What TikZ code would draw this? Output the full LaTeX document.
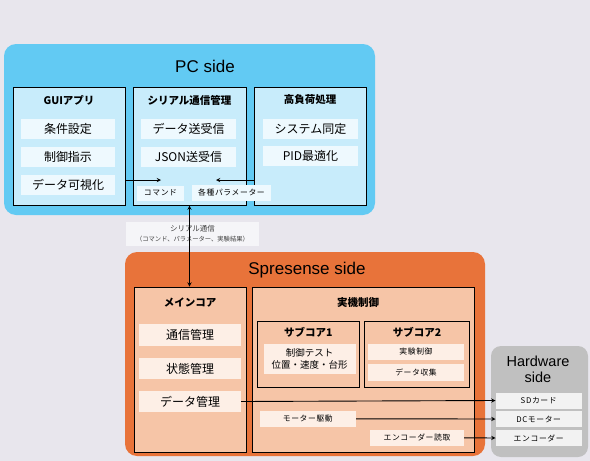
\documentclass[tikz,border=0pt]{standalone}
\usepackage{fontspec}
\setmainfont{Noto Sans CJK JP}
\newfontfamily\latin{Liberation Sans}
\usetikzlibrary{arrows,positioning,shapes,calc,backgrounds}
\usepackage{xcolor}
\definecolor{bgc}{HTML}{E8E6ED}
\definecolor{pcblue}{HTML}{62CAF3}
\definecolor{pcbox}{HTML}{C8ECFB}
\definecolor{pcitem}{HTML}{EEF9FE}
\definecolor{sporange}{HTML}{E8733A}
\definecolor{spbox}{HTML}{F6C5A7}
\definecolor{spitem}{HTML}{FDEFE6}
\definecolor{hwgray}{HTML}{C0C0C0}
\definecolor{hwitem}{HTML}{F2F2F2}
\definecolor{tagc}{HTML}{F5F5F8}

\begin{document}
\begin{tikzpicture}[x=1pt,y=-1pt,
    panel/.style={rounded corners=12pt,inner sep=0pt},
    grp/.style={draw,line width=1pt,inner sep=0pt},
    item/.style={inner sep=0pt,font=\fontsize{12}{14}\selectfont},
    tag/.style={inner sep=0pt,font=\fontsize{7.8}{9}\selectfont\addfontfeature{LetterSpace=8}},
    ttl/.style={font=\fontsize{10.5}{12}\selectfont\bfseries},
    big/.style={font=\latin\fontsize{17}{20}\selectfont},
    conn/.style={line width=0.9pt,-stealth}]
    \fill[bgc] (0,0) rectangle (590,461);
    \useasboundingbox (0,0) rectangle (590,461);

    \node[panel,fill=pcblue,minimum width=371pt,minimum height=171pt] (pc) at (189.5,129.5) {};
    \node[big] (pct) at (205,66) {PC side};
    \node[grp,fill=pcbox,minimum width=112pt,minimum height=118pt] (gui) at (69,146) {};
    \node[grp,fill=pcbox,minimum width=113pt,minimum height=118pt] (ser) at (189.5,146) {};
    \node[grp,fill=pcbox,minimum width=112pt,minimum height=118pt] (hi) at (310,146) {};
    \node[ttl] (guit) at (69,100) {GUIアプリ};
    \node[ttl] (sert) at (189.5,100) {シリアル通信管理};
    \node[ttl] (hit) at (310,100) {高負荷処理};
    \node[item,fill=pcitem,minimum width=94pt,minimum height=20pt] (cond) at (68,129) {条件設定};
    \node[item,fill=pcitem,minimum width=94pt,minimum height=20pt] (ctrl) at (68,157) {制御指示};
    \node[item,fill=pcitem,minimum width=94pt,minimum height=20pt] (vis) at (68,184.5) {データ可視化};
    \node[item,fill=pcitem,minimum width=95pt,minimum height=20pt] (dtx) at (188.5,129) {データ送受信};
    \node[item,fill=pcitem,minimum width=95pt,minimum height=20pt] (json) at (188.5,157) {JSON送受信};
    \node[item,fill=pcitem,minimum width=95pt,minimum height=20pt] (sysid) at (310.5,129) {システム同定};
    \node[item,fill=pcitem,minimum width=95pt,minimum height=20pt] (pid) at (310.5,156) {PID最適化};
    \coordinate (cmdin) at (161,180);
    \coordinate (parin) at (216,180);
    \draw[conn] (gui.east |- cmdin) -- (cmdin);
    \draw[conn] (hi.west |- parin) -- (parin);
    \node[tag,fill=pcitem,minimum width=47pt,minimum height=15pt] (cmd) at (160.5,193) {コマンド};
    \node[tag,fill=pcitem,minimum width=79pt,minimum height=16pt] (par) at (231.5,193) {各種パラメーター};

    \node[panel,fill=sporange,minimum width=360pt,minimum height=204pt] (sp) at (305,354) {};
    \node[big] (spt) at (307,270) {Spresense side};
    \node[grp,fill=spbox,minimum width=112pt,minimum height=165pt] (main) at (190,369.5) {};
    \node[ttl] (maint) at (190,303) {メインコア};
    \node[item,fill=spitem,minimum width=102pt,minimum height=22pt] (comm) at (190,335) {通信管理};
    \node[item,fill=spitem,minimum width=102pt,minimum height=21pt] (state) at (190,368.5) {状態管理};
    \node[item,fill=spitem,minimum width=102pt,minimum height=21pt] (dm) at (190,401.5) {データ管理};
    \node[grp,fill=spbox,minimum width=222pt,minimum height=165pt] (jk) at (363.5,369.5) {};
    \node[ttl] (jkt) at (358,303) {実機制御};
    \node[grp,fill=spbox,minimum width=102pt,minimum height=66pt] (s1) at (308.3,354) {};
    \node[ttl] (s1t) at (308.3,332.3) {サブコア1};
    \node[item,fill=spitem,minimum width=92pt,minimum height=30pt,align=center,font=\fontsize{9.5}{12.5}\selectfont] (s1a) at (309.5,359) {制御テスト\\位置・速度・台形};
    \node[grp,fill=spbox,minimum width=105pt,minimum height=66pt] (s2) at (417,354) {};
    \node[ttl] (s2t) at (417,332.3) {サブコア2};
    \node[tag,fill=spitem,minimum width=96pt,minimum height=16pt] (exp) at (416,352) {実験制御};
    \node[tag,fill=spitem,minimum width=96pt,minimum height=17pt] (coll) at (416,372.3) {データ収集};
    \node[tag,fill=spitem,minimum width=96pt,minimum height=16pt] (motor) at (307.8,418.8) {モーター駆動};
    \node[tag,fill=spitem,minimum width=94pt,minimum height=16pt] (enc) at (417,437.8) {エンコーダー読取};

    \node[panel,rounded corners=10pt,fill=hwgray,minimum width=97pt,minimum height=111pt] (hw) at (539.5,401.5) {};
    \node[align=center,font=\latin\fontsize{14.5}{16}\selectfont] (hwt) at (538,369.5) {Hardware\\side};
    \node[tag,fill=hwitem,minimum width=86pt,minimum height=16pt] (sd) at (538.7,400.5) {SDカード};
    \node[tag,fill=hwitem,minimum width=86pt,minimum height=16pt] (dc) at (538.7,419) {DCモーター};
    \node[tag,fill=hwitem,minimum width=86pt,minimum height=16pt] (hwenc) at (538.7,438) {エンコーダー};
    \draw[conn] (dm.east) -- (sd.west);
    \draw[conn] (motor.east) -- (dc.west);
    \draw[conn] (enc.east) -- (hwenc.west);

    \node[fill=tagc,inner sep=0pt,minimum width=133pt,minimum height=24pt,align=center,text=black!75,font=\fontsize{7.5}{10}\selectfont] (slbl) at (192.5,234) {シリアル通信\\{\fontsize{6.3}{8}\selectfont （コマンド、パラメーター、実験結果）}};
    \draw[line width=0.9pt,stealth-stealth] (ser.south) -- (ser.south |- main.north);
  \end{tikzpicture}
\end{document}
